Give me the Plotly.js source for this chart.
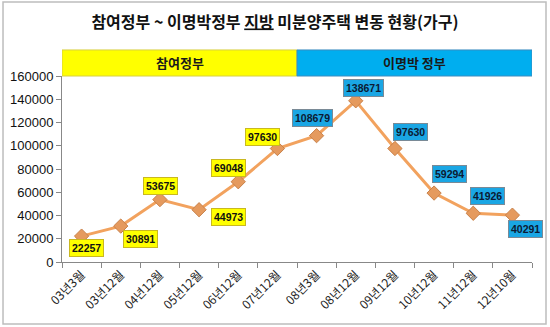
<!DOCTYPE html>
<html>
<head>
<meta charset="utf-8">
<script src="https://cdn.plot.ly/plotly-3.0.1.min.js"></script>
<style>
html,body{margin:0;padding:0;background:#fff;}
#chart{width:550px;height:327px;}
</style>
</head>
<body>
<div id="chart"></div>
<script>
// ---- data ----
var categories = ["03년3월","03년12월","04년12월","05년12월","06년12월","07년12월","08년3월","08년12월","09년12월","10년12월","11년12월","12년10월"];
var unsold = [22257, 30891, 53675, 44973, 69048, 97630, 108679, 138671, 97630, 59294, 41926, 40291];
var govNames = ["참여정부", "이명박 정부"];
var govCount = [6, 6]; // number of periods under each government
var titleText = "참여정부 ~ 이명박정부 <u>지방</u> 미분양주택 변동 현황(가구)";

// ---- label placement (pixel offsets from each point) ----
var labelDX = [5, 20, 1, 29, -10, -15, -4, 8, 16, 15, 14, 13];
var labelDY = [-12, -13, 14, -7, 14, 12, 18, 13, 17, 19, 17, -14];

var fontKR = "Liberation Sans, Arial, Noto Sans CJK KR, sans-serif";

var annotations = unsold.map(function (v, i) {
  var first = i < govCount[0];
  return {
    x: categories[i], y: v, xref: 'x', yref: 'y',
    text: '<b>' + v + '</b>', showarrow: false,
    xshift: labelDX[i], yshift: labelDY[i],
    bgcolor: first ? '#FFFF00' : '#1AA6E4',
    bordercolor: first ? '#C9B820' : '#7A8A96',
    borderwidth: 1, borderpad: 2,
    font: {family: fontKR, size: 10.5, color: first ? '#111' : '#0B1A33'}
  };
});

var shapes = [];
var start = -0.5;
var bandColors = ['#FFFF00', '#00AEEF'];
var bandLines = ['#D8D040', '#3A8CC0'];
govNames.forEach(function (g, k) {
  var end = start + govCount[k];
  shapes.push({type: 'rect', xref: 'x', yref: 'paper', x0: start, x1: end, y0: 1.0, y1: 1.14,
    fillcolor: bandColors[k], line: {color: bandLines[k], width: 1}, layer: 'above'});
  annotations.push({xref: 'x', yref: 'paper', x: (start + end) / 2, y: 1.07, xanchor: 'center', yanchor: 'middle',
    showarrow: false, text: '<b>' + g + '</b>',
    font: {family: "Noto Sans CJK KR, sans-serif", size: 13, color: '#1a1a1a'}});
  start = end;
});
// outer frame
shapes.push({type: 'rect', xref: 'paper', yref: 'paper', x0: -0.1255, x1: 1.0298, y0: -0.333, y1: 1.398,
  line: {color: '#BDBDBD', width: 1.5}, fillcolor: 'rgba(0,0,0,0)'});

var trace = {
  x: categories, y: unsold, type: 'scatter', mode: 'lines+markers',
  line: {color: '#F2A25E', width: 3},
  marker: {symbol: 'diamond', size: 11, color: '#E59A5E', line: {color: '#C8814A', width: 1}},
  cliponaxis: false, hoverinfo: 'none'
};

var layout = {
  width: 550, height: 327,
  margin: {l: 62, r: 18, t: 76, b: 65},
  paper_bgcolor: '#fff', plot_bgcolor: '#fff',
  showlegend: false,
  title: {text: '<b>' + titleText + '</b>', x: 0.5, xref: 'container', xanchor: 'center',
    y: 0.933, yref: 'container', yanchor: 'middle',
    font: {family: "Noto Sans CJK KR, sans-serif", size: 16, color: '#111'}},
  xaxis: {type: 'category', range: [-0.5, 11.5], tickson: 'boundaries', ticks: 'outside', ticklen: 5,
    tickcolor: '#888', showline: true, linecolor: '#888', linewidth: 1, showgrid: false, zeroline: false,
    tickangle: -45, tickfont: {family: "Noto Sans CJK KR, sans-serif", size: 12, color: '#222'}},
  yaxis: {range: [0, 160000], dtick: 20000, tickformat: 'd', ticks: 'outside', ticklen: 5,
    tickcolor: '#888', showline: true, linecolor: '#888', linewidth: 1, showgrid: false, zeroline: false,
    tickfont: {family: fontKR, size: 13, color: '#111'}},
  shapes: shapes,
  annotations: annotations
};

Plotly.newPlot('chart', [trace], layout, {staticPlot: true, displayModeBar: false});
</script>
</body>
</html>
